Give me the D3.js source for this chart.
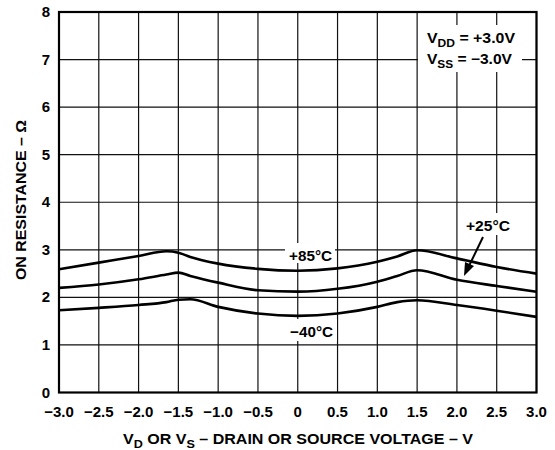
<!DOCTYPE html>
<html><head><meta charset="utf-8">
<script src="https://cdn.jsdelivr.net/npm/d3@7"></script>
<style>body{margin:0;background:#fff}svg{display:block}text{font-family:"Liberation Sans",Arial,sans-serif;font-weight:bold;fill:#000}</style>
</head><body>
<svg id="c" width="555" height="450"></svg>
<script>
const voltages = [-3, -2.5, -2, -1.65, -1.5, -1.35, -1, -0.5, 0, 0.5, 1, 1.25, 1.5, 2, 2.5, 3];
const r85 = [2.59, 2.73, 2.87, 2.97, 2.94, 2.85, 2.71, 2.60, 2.56, 2.61, 2.75, 2.86, 2.99, 2.82, 2.64, 2.50];
const r25 = [2.20, 2.27, 2.38, 2.48, 2.52, 2.45, 2.31, 2.15, 2.12, 2.18, 2.33, 2.45, 2.57, 2.37, 2.24, 2.12];
const rm40 = [1.73, 1.78, 1.84, 1.90, 1.95, 1.96, 1.80, 1.66, 1.61, 1.66, 1.80, 1.90, 1.94, 1.84, 1.72, 1.59];
const xTicks = [-3, -2.5, -2, -1.5, -1, -0.5, 0, 0.5, 1, 1.5, 2, 2.5, 3];
const xTickLabels = ["\u22123.0","\u22122.5","\u22122.0","\u22121.5","\u22121.0","\u22120.5","0","0.5","1.0","1.5","2.0","2.5","3.0"];
const yTicks = [0,1,2,3,4,5,6,7,8];

const svg = d3.select("#c");
const L=59, R=536.5, T=12, B=392.5;
const x = d3.scaleLinear().domain([-3,3]).range([L,R]);
const y = d3.scaleLinear().domain([0,8]).range([B,T]);

// grid
const g = svg.append("g");
g.selectAll("line.v").data(xTicks).join("line")
  .attr("x1",d=>x(d)).attr("x2",d=>x(d)).attr("y1",T).attr("y2",B)
  .attr("stroke","#111").attr("stroke-width",1.2);
g.selectAll("line.h").data(yTicks).join("line")
  .attr("y1",d=>y(d)).attr("y2",d=>y(d)).attr("x1",L).attr("x2",R)
  .attr("stroke","#111").attr("stroke-width",1.2);

// label backgrounds (white boxes interrupting grid)
const bg = svg.append("g");
bg.append("rect").attr("x",418).attr("y",25).attr("width",104).attr("height",47).attr("fill","#fff");
bg.append("rect").attr("x",285).attr("y",243).attr("width",50).attr("height",20).attr("fill","#fff");
bg.append("rect").attr("x",285).attr("y",319).attr("width",52).attr("height",22).attr("fill","#fff");
bg.append("rect").attr("x",463).attr("y",213).attr("width",50).attr("height",22).attr("fill","#fff");

// border
svg.append("rect").attr("x",L).attr("y",T).attr("width",R-L).attr("height",B-T)
  .attr("fill","none").attr("stroke","#000").attr("stroke-width",2.2);

// curves
const line = d3.line().x(d=>x(d[0])).y(d=>y(d[1])).curve(d3.curveMonotoneX);
[r85, r25, rm40].forEach(s=>{
  svg.append("path").datum(voltages.map((v,i)=>[v,s[i]]))
    .attr("d",line).attr("fill","none").attr("stroke","#000").attr("stroke-width",2.6);
});

// axes tick labels
svg.selectAll("text.xt").data(xTicks).join("text")
  .attr("x",d=>x(d)).attr("y",417).attr("text-anchor","middle")
  .style("font-size","15px").text((d,i)=>xTickLabels[i]);
svg.selectAll("text.yt").data(yTicks).join("text")
  .attr("x",50).attr("y",d=>y(d)+5).attr("text-anchor","end")
  .style("font-size","15px").text(d=>d);

// x title
const xt = svg.append("text").attr("x",123).attr("y",444).style("font-size","14px")
  .attr("textLength",350).attr("lengthAdjust","spacingAndGlyphs");
xt.append("tspan").text("V");
xt.append("tspan").attr("dy",4).style("font-size","11px").text("D");
xt.append("tspan").attr("dy",-4).text(" OR V");
xt.append("tspan").attr("dy",4).style("font-size","11px").text("S");
xt.append("tspan").attr("dy",-4).text(" \u2013 DRAIN OR SOURCE VOLTAGE \u2013 V");

// y title
svg.append("text").attr("transform","translate(26,200) rotate(-90)").attr("text-anchor","middle")
  .style("font-size","14px").attr("textLength",160).attr("lengthAdjust","spacingAndGlyphs")
  .text("ON RESISTANCE \u2013 \u03A9");

// legend
function vlab(yy, sub, rest, len){
  const t = svg.append("text").attr("x",427).attr("y",yy).style("font-size","14.5px")
    .attr("textLength",len).attr("lengthAdjust","spacingAndGlyphs");
  t.append("tspan").text("V");
  t.append("tspan").attr("dy",4).style("font-size","11px").text(sub);
  t.append("tspan").attr("dy",-4).text(rest);
}
vlab(43,"DD"," = +3.0V",88);
vlab(64,"SS"," = \u22123.0V",85);

// curve labels
svg.append("text").attr("x",310.5).attr("y",261).attr("text-anchor","middle").style("font-size","15px")
  .attr("textLength",43).attr("lengthAdjust","spacingAndGlyphs").text("+85\u00B0C");
svg.append("text").attr("x",311.5).attr("y",337).attr("text-anchor","middle").style("font-size","15px")
  .attr("textLength",43).attr("lengthAdjust","spacingAndGlyphs").text("\u221240\u00B0C");
svg.append("text").attr("x",488).attr("y",231).attr("text-anchor","middle").style("font-size","15px")
  .attr("textLength",44).attr("lengthAdjust","spacingAndGlyphs").text("+25\u00B0C");

// arrow
svg.append("line").attr("x1",483).attr("y1",237).attr("x2",469).attr("y2",266)
  .attr("stroke","#000").attr("stroke-width",2);
svg.append("path").attr("d","M464,276 L465,262 L474,266 Z").attr("fill","#000");
</script>
</body></html>
